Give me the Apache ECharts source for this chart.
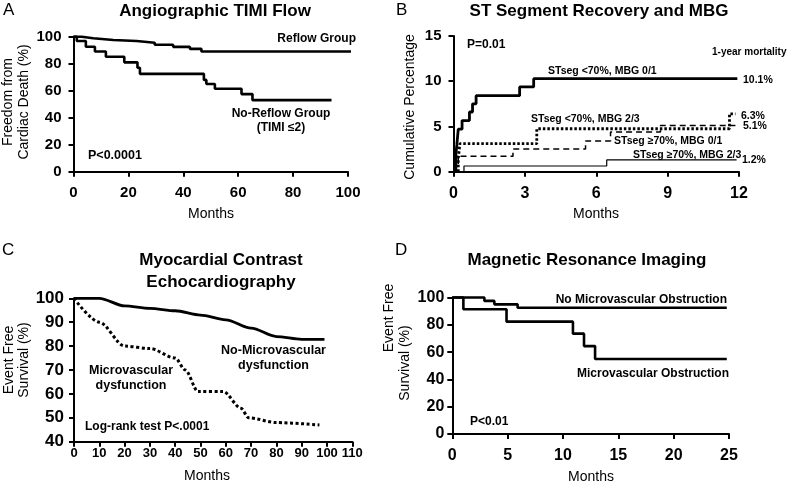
<!DOCTYPE html>
<html><head><meta charset="utf-8">
<script src="https://cdn.jsdelivr.net/npm/echarts@6/dist/echarts.min.js"></script>
<style>html,body{margin:0;padding:0;background:#fff}#c{width:788px;height:483px}</style>
</head><body><div id="c"></div>
<script>
// ---------- Panel A: Angiographic TIMI Flow ----------
const aReflowMonths   = [0, 3, 7.2, 14.5, 23, 29.6, 36.3, 42.4, 46.6, 103];
const aReflowSurv     = [100, 98.8, 97.5, 96.8, 95.5, 94, 92.5, 91, 89, 89];
const aNoReflowMonths = [0, 1.2, 4.5, 7.8, 11.8, 18.5, 23.3, 24.2, 47.5, 48.4, 51.5, 61.2, 65.2, 94];
const aNoReflowSurv   = [100, 96.8, 92.6, 89, 85.2, 81, 77, 72.5, 68, 65, 61.5, 57.5, 53, 53];
const aXTicks = [0, 100, 20];   // min, max, interval
const aYTicks = [0, 100, 20];

// ---------- Panel B: ST Segment Recovery and MBG ----------
const bLowMBG01Months  = [0.1, 0.1, 0.14, 0.2, 0.36, 0.67, 0.8, 0.95, 2.78, 3.37, 11.93];
const bLowMBG01Pct     = [0, 1.9, 2.96, 4.7, 5.65, 6.6, 7.5, 8.4, 9.37, 10.28, 10.28];
const bLowMBG23Months  = [0.2, 0.2, 0.27, 3.5, 11.6, 11.85];
const bLowMBG23Pct     = [0, 1.5, 3.1, 4.75, 6.4, 6.4];
const bHighMBG01Months = [0.1, 0.1, 0.2, 2.5, 5.55, 6.6, 8.7, 11.85];
const bHighMBG01Pct    = [0, 0.8, 1.7, 2.5, 3.4, 4.4, 5.1, 5.1];
const bHighMBG23Months = [0.44, 0.44, 6.44, 11.9];
const bHighMBG23Pct    = [0, 0.63, 1.3, 1.3];
const bXTicks = [0, 12, 3];
const bYTicks = [0, 15, 5];

// ---------- Panel C: Myocardial Contrast Echocardiography ----------
const cNoMvdMonths = [0, 10, 20, 30, 40, 50, 60, 70, 80, 90, 99];
const cNoMvdSurv   = [100, 100, 96.8, 95.8, 94.8, 93, 91, 87.5, 84, 82.8, 82.8];
const cMvdMonths   = [0, 10, 20, 30, 40, 44, 49, 59, 66, 69, 80, 97];
const cMvdSurv     = [100, 90, 80, 79, 75, 70, 61, 61, 54, 50, 48, 47];
const cXTicks = [0, 110, 10];
const cYTicks = [40, 100, 10];

// ---------- Panel D: Magnetic Resonance Imaging ----------
const dNoMvoMonths = [0, 2.9, 3.8, 5.9, 24.8];
const dNoMvoSurv   = [100, 97.5, 95, 92.5, 92.5];
const dMvoMonths   = [0, 1, 4.9, 10.9, 11.9, 12.9, 24.8];
const dMvoSurv     = [100, 91.4, 82.3, 73.5, 64.4, 55, 55];
const dXTicks = [0, 25, 5];
const dYTicks = [0, 100, 20];

const zip = (xs, ys) => xs.map((x, i) => [x, ys[i]]);
const ARIAL = "'Liberation Sans', Arial, sans-serif";

const grids = [
  {left: 73.5, top: 36.7, width: 274.5, height: 135},
  {left: 453.5, top: 36, width: 285.5, height: 135.7},
  {left: 74, top: 298.3, width: 278.3, height: 143.4},
  {left: 452.3, top: 297.5, width: 276.7, height: 136.5}
].map(g => Object.assign({containLabel: false, outerBoundsMode: 'none'}, g));

function axisCommon(fs, margin) {
  return {
    axisLine: {show: true, onZero: false, lineStyle: {color: '#000', width: 2}},
    axisTick: {show: true, inside: false, length: 5, lineStyle: {color: '#000', width: 2}},
    axisLabel: {color: '#000', fontWeight: 'bold', fontFamily: ARIAL, fontSize: fs, margin: margin},
    splitLine: {show: false}
  };
}
function xAx(i, t, fs, margin) {
  return Object.assign({type: 'value', gridIndex: i, min: t[0], max: t[1], interval: t[2]}, axisCommon(fs, margin));
}
function yAx(i, t, fs, margin) {
  return Object.assign({type: 'value', gridIndex: i, min: t[0], max: t[1], interval: t[2]}, axisCommon(fs, margin));
}

const xAxes = [xAx(0, aXTicks, 15, 14), xAx(1, bXTicks, 16, 14), xAx(2, cXTicks, 13, 5), xAx(3, dXTicks, 16, 14)];
const yAxes = [yAx(0, aYTicks, 15, 12), yAx(1, bYTicks, 15, 12), yAx(2, cYTicks, 17, 10), yAx(3, dYTicks, 16, 8)];

function ser(i, data, opt) {
  return Object.assign({
    type: 'line', xAxisIndex: i, yAxisIndex: i, data: data, showSymbol: false, symbol: 'none',
    clip: false, animation: false, silent: true,
    lineStyle: {color: '#000', width: 2.6}
  }, opt);
}

const series = [
  ser(0, zip(aReflowMonths, aReflowSurv), {step: 'end'}),
  ser(0, zip(aNoReflowMonths, aNoReflowSurv), {step: 'end'}),
  ser(1, zip(bHighMBG23Months, bHighMBG23Pct), {step: 'end', lineStyle: {color: '#000', width: 1.2}}),
  ser(1, zip(bHighMBG01Months, bHighMBG01Pct), {step: 'end', lineStyle: {color: '#000', width: 1.5, type: [6, 4]}}),
  ser(1, zip(bLowMBG23Months, bLowMBG23Pct), {step: 'end', lineStyle: {color: '#000', width: 2.8, type: [2.5, 2]}}),
  ser(1, zip(bLowMBG01Months, bLowMBG01Pct), {step: 'end', lineStyle: {color: '#000', width: 2.8}}),
  ser(2, zip(cNoMvdMonths, cNoMvdSurv), {smooth: 0.3, smoothMonotone: 'x', lineStyle: {color: '#000', width: 2.8}}),
  ser(2, zip(cMvdMonths, cMvdSurv), {smooth: 0.3, smoothMonotone: 'x', lineStyle: {color: '#000', width: 3, type: [3, 2.5]}}),
  ser(3, zip(dNoMvoMonths, dNoMvoSurv), {step: 'end'}),
  ser(3, zip(dMvoMonths, dMvoSurv), {step: 'end'})
];

function txt(text, x, y, o) {
  o = o || {};
  return {
    type: 'text', x: x, y: y, rotation: o.rot || 0, silent: true,
    style: {
      text: text, fill: '#000', fontFamily: ARIAL,
      fontSize: o.fs || 12, fontWeight: o.fw || 'bold',
      textAlign: o.align || 'left', textVerticalAlign: 'middle'
    }
  };
}
const R = Math.PI / 2;
const graphics = [
  // panel letters
  txt('A', 3, 10, {fs: 17, fw: 'normal'}),
  txt('B', 396, 10, {fs: 17, fw: 'normal'}),
  txt('C', 2, 250, {fs: 17, fw: 'normal'}),
  txt('D', 395, 250, {fs: 17, fw: 'normal'}),
  // titles
  txt('Angiographic TIMI Flow', 215, 11, {fs: 17, align: 'center'}),
  txt('ST Segment Recovery and MBG', 599, 11, {fs: 17, align: 'center'}),
  txt('Myocardial Contrast', 221, 260, {fs: 17, align: 'center'}),
  txt('Echocardiography', 221, 282, {fs: 17, align: 'center'}),
  txt('Magnetic Resonance Imaging', 587, 260, {fs: 17, align: 'center'}),
  // axis names
  txt('Months', 211, 214, {fs: 14, fw: 'normal', align: 'center'}),
  txt('Months', 596, 214, {fs: 14, fw: 'normal', align: 'center'}),
  txt('Months', 207, 476, {fs: 14, fw: 'normal', align: 'center'}),
  txt('Months', 591, 477, {fs: 14, fw: 'normal', align: 'center'}),
  txt('Freedom from', 8.5, 102, {fs: 14, fw: 'normal', align: 'center', rot: R}),
  txt('Cardiac Death (%)', 24, 102, {fs: 14, fw: 'normal', align: 'center', rot: R}),
  txt('Cumulative Percentage', 410.5, 107, {fs: 14, fw: 'normal', align: 'center', rot: R}),
  txt('Event Free', 9, 360, {fs: 14, fw: 'normal', align: 'center', rot: R}),
  txt('Survival (%)', 24, 360, {fs: 14, fw: 'normal', align: 'center', rot: R}),
  txt('Event Free', 389, 318, {fs: 14, fw: 'normal', align: 'center', rot: R}),
  txt('Survival (%)', 405.5, 363, {fs: 14, fw: 'normal', align: 'center', rot: R}),
  // panel A annotations
  txt('Reflow Group', 356, 39, {fs: 12, align: 'right'}),
  txt('No-Reflow Group', 281, 114, {fs: 12, align: 'center'}),
  txt('(TIMI \u22642)', 281, 127.5, {fs: 12, align: 'center'}),
  txt('P<0.0001', 88, 156, {fs: 12.5}),
  // panel B annotations
  txt('P=0.01', 467, 45, {fs: 12}),
  txt('1-year mortality', 712, 52, {fs: 10}),
  txt('STseg <70%, MBG 0/1', 548, 71, {fs: 10.5}),
  txt('10.1%', 743, 80, {fs: 10.5}),
  txt('STseg <70%, MBG 2/3', 531, 119.5, {fs: 10.5}),
  txt('6.3%', 741, 115.7, {fs: 10.5}),
  txt('5.1%', 743, 125.7, {fs: 10.5}),
  txt('STseg \u226570%, MBG 0/1', 614, 141, {fs: 10.5}),
  txt('STseg \u226570%, MBG 2/3', 633, 155.3, {fs: 10.5}),
  txt('1.2%', 742, 160.3, {fs: 10.5}),
  // panel C annotations
  txt('Microvascular', 131, 371, {fs: 12.5, align: 'center'}),
  txt('dysfunction', 131, 385.5, {fs: 12.5, align: 'center'}),
  txt('No-Microvascular', 273.5, 351, {fs: 12.5, align: 'center'}),
  txt('dysfunction', 273.5, 365.5, {fs: 12.5, align: 'center'}),
  txt('Log-rank test P<.0001', 85, 427, {fs: 12}),
  // panel D annotations
  txt('No Microvascular Obstruction', 727, 300, {fs: 12, align: 'right'}),
  txt('Microvascular Obstruction', 729, 373.5, {fs: 12, align: 'right'}),
  txt('P<0.01', 470, 422, {fs: 12})
];

const chart = echarts.init(document.getElementById('c'), null, {renderer: 'canvas'});
chart.setOption({
  animation: false,
  backgroundColor: '#fff',
  grid: grids,
  xAxis: xAxes,
  yAxis: yAxes,
  series: series,
  graphic: graphics
});
</script></body></html>
